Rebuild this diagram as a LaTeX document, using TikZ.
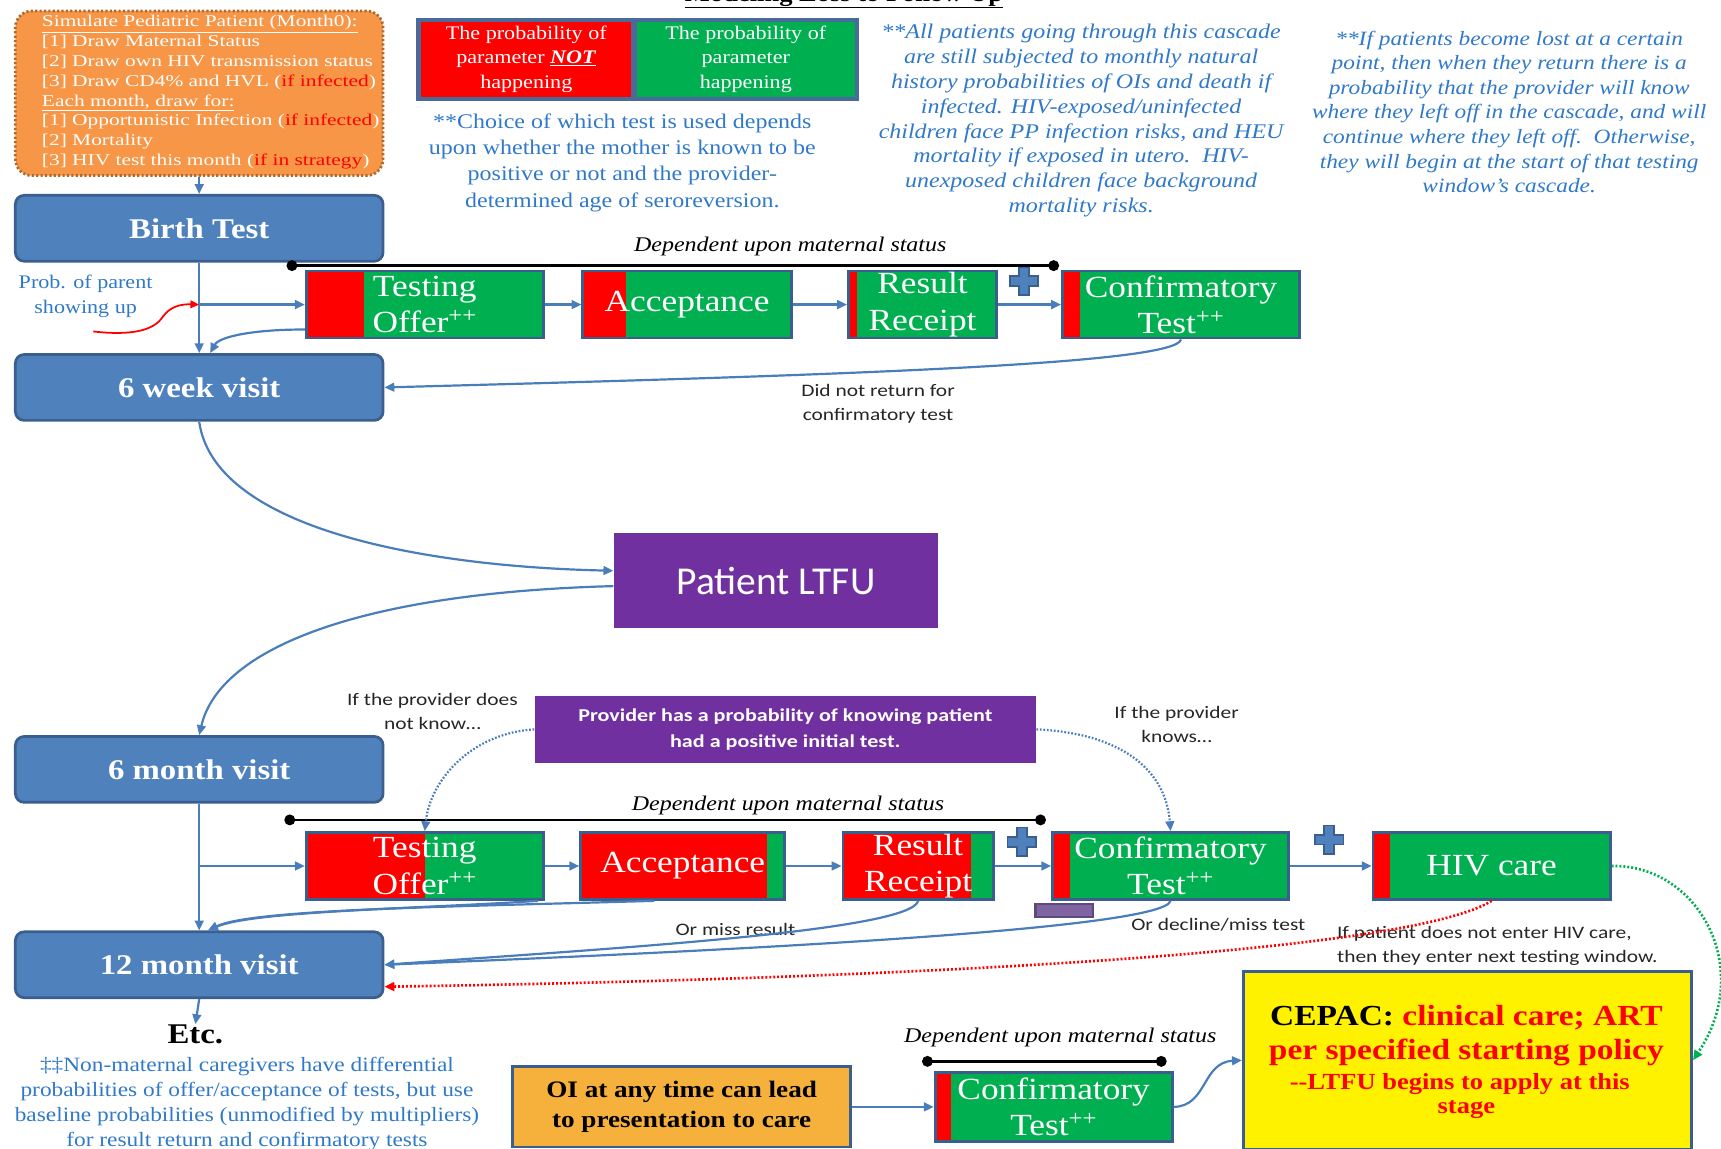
\documentclass[tikz,border=0pt]{standalone}
\usepackage{fontspec}
\setmainfont[FakeStretch=1.15]{Liberation Serif}
\newfontfamily\simfont[FakeStretch=1.3]{Liberation Serif}
\newfontfamily\lblfont[FakeStretch=1.22]{Carlito}
\newfontfamily\ltfufont{Carlito}
\usetikzlibrary{arrows.meta}
\definecolor{boxblue}{HTML}{4F81BD}
\definecolor{boxborder}{HTML}{3A5F8E}
\definecolor{tgreen}{HTML}{00B050}
\definecolor{tred}{HTML}{FF0000}
\definecolor{ppurple}{HTML}{7030A0}
\definecolor{simorange}{HTML}{F79646}
\definecolor{simborder}{HTML}{B06A30}
\definecolor{oiorange}{HTML}{F6B03C}
\definecolor{notblue}{HTML}{3079C8}
\definecolor{connblue}{HTML}{4A7EBB}
\definecolor{lblgray}{HTML}{262626}
\definecolor{minusfill}{HTML}{8064A2}
\definecolor{minusdraw}{HTML}{5C4A7A}
\definecolor{legframe}{HTML}{4A6B99}
\begin{document}
\begin{tikzpicture}[x=1pt,y=-1pt,
  conn/.style={draw=connblue, line width=2pt, -{Triangle[length=9pt,width=8pt]}},
  dotconn/.style={draw=connblue, line width=2pt, dash pattern=on 1.6pt off 1.6pt, -{Triangle[length=9pt,width=8pt]}},
  reddot/.style={draw=tred, line width=2.4pt, dash pattern=on 1.8pt off 1.8pt, -{Triangle[length=9pt,width=8pt]}},
  greendot/.style={draw=tgreen, line width=2.4pt, dash pattern=on 1.8pt off 1.8pt, -{Triangle[length=9pt,width=8pt]}},
  redarrow/.style={draw=tred, line width=1.6pt, -{Triangle[length=8pt,width=7pt]}},
  dep/.style={draw=black, line width=2.5pt},
  visit/.style={draw=boxborder, line width=2.5pt, fill=boxblue, rounded corners=8pt,
    minimum width=335pt, minimum height=60pt, inner sep=0pt, text=white,
    font=\bfseries\fontsize{26}{30}\selectfont},
  tbox/.style={draw=boxborder, line width=2.5pt, fill=tgreen, minimum height=61pt,
    inner sep=0pt, text=white, align=center, font=\fontsize{28}{33}\selectfont,
    path picture={\fill[tred] (path picture bounding box.south west) rectangle ([xshift=#1]path picture bounding box.north west);}},
  note/.style={text=notblue, align=center, inner sep=0pt},
  lbl/.style={text=lblgray, align=center, inner sep=0pt, font=\lblfont\fontsize{16}{22}\selectfont},
  deplbl/.style={inner sep=0pt, font=\itshape\fontsize{19}{22}\selectfont},
  plussign/.pic={\draw[fill=boxblue, draw=boxborder, line width=1.5pt]
     (-4.5,-13)--(4.5,-13)--(4.5,-4.5)--(13,-4.5)--(13,4.5)--(4.5,4.5)--(4.5,13)--(-4.5,13)--(-4.5,4.5)--(-13,4.5)--(-13,-4.5)--(-4.5,-4.5)--cycle;}
]
\useasboundingbox (0,0) rectangle (1568,1046);
\clip (0,0) rectangle (1568,1046);

% title
\node[anchor=base, inner sep=0pt, font=\bfseries\fontsize{21}{24}\selectfont] (title) at (769,1) {\underline{Modeling Loss to Follow Up}};

% simulate box
\node[draw=simborder, line width=2.5pt, dash pattern=on 2pt off 2pt, fill=simorange, rounded corners=15pt,
  minimum width=335pt, minimum height=150pt] (sim) at (181.5,85) {};
\node[anchor=west, align=left, inner sep=0pt, text=white, font=\simfont\fontsize{15}{18}\selectfont] (simtext) at (38,84)
 {\underline{Simulate Pediatric Patient (Month0):}\\
 {[1]} Draw Maternal Status\\
 {[2]} Draw own HIV transmission status\\
 {[3]} Draw CD4\% and HVL ({\color{tred}if infected})\\
 \underline{Each month, draw for:}\\
 {[1]} Opportunistic Infection ({\color{tred}if infected})\\
 {[2]} Mortality\\
 {[3]} HIV test this month ({\color{tred}if in strategy})};

% legend
\node[draw=legframe, fill=legframe, line width=2pt, minimum width=402pt, minimum height=74pt, inner sep=0pt] (legend) at (581,54) {};
\node[fill=tred, minimum width=191pt, minimum height=68pt, inner sep=0pt, text=white, align=center,
  font=\fontsize{17.5}{22.5}\selectfont] (legnot) at (479.5,54) {The probability of\\parameter \underline{\textbf{\textit{NOT}}}\\happening};
\node[fill=tgreen, minimum width=199pt, minimum height=68pt, inner sep=0pt, text=white, align=center,
  font=\fontsize{17.5}{22.5}\selectfont] (legyes) at (679.5,54) {The probability of\\parameter\\happening};

% notes
\node[note, font=\fontsize{19}{24}\selectfont] (choice) at (567,148)
 {**Choice of which test is used depends\\upon whether the mother is known to be\\positive or not and the provider-\\determined age of seroreversion.};
\node[note, font=\itshape\fontsize{19}{22.6}\selectfont] (allnote) at (985,110)
 {**All patients going through this cascade\\are still subjected to monthly natural\\history probabilities of OIs and death if\\infected. HIV-exposed/uninfected\\children face PP infection risks, and HEU\\mortality if exposed in utero.\ \ HIV-\\unexposed children face background\\mortality risks.};
\node[note, font=\itshape\fontsize{18.5}{22.4}\selectfont] (lostnote) at (1375,102)
 {**If patients become lost at a certain\\point, then when they return there is a\\probability that the provider will know\\where they left off in the cascade, and will\\continue where they left off.\ \ Otherwise,\\they will begin at the start of that testing\\window’s cascade.};
\node[note, font=\fontsize{18.5}{23}\selectfont] (carenote) at (225,1006)
 {‡‡Non-maternal caregivers have differential\\probabilities of offer/acceptance of tests, but use\\baseline probabilities (unmodified by multipliers)\\for result return and confirmatory tests};

% visits
\node[visit] (birth) at (181.5,208) {Birth Test};
\node[visit] (w6) at (181.5,353) {6 week visit};
\node[visit] (m6) at (181.5,701) {6 month visit};
\node[visit] (m12) at (181.5,879) {12 month visit};
\node[inner sep=0pt, font=\bfseries\fontsize{26}{30}\selectfont] (etc) at (178,942) {Etc.};

% row 1
\node[tbox=53pt, minimum width=216pt] (to1) at (387,277.5) {Testing\\Offer\textsuperscript{++}};
\node[tbox=39pt, minimum width=190pt] (acc1) at (626,277.5) {Acceptance};
\node[tbox=8pt, minimum width=135pt] (rr1) at (840.5,277.5) {Result\\Receipt};
\node[tbox=16pt, minimum width=216pt] (cf1) at (1076,277.5) {Confirmatory\\Test\textsuperscript{++}};

% row 2
\node[tbox=108pt, minimum width=216pt] (to2) at (387,789) {Testing\\Offer\textsuperscript{++}};
\node[tbox=170pt, minimum width=186pt] (acc2) at (622,789) {Acceptance};
\node[tbox=117pt, minimum width=137pt] (rr2) at (836.5,789) {Result\\Receipt};
\node[tbox=16pt, minimum width=215pt] (cf2) at (1066.5,789) {Confirmatory\\Test\textsuperscript{++}};
\node[tbox=15pt, minimum width=216pt] (hiv) at (1359,789) {HIV care};

% row 3
\node[draw=boxborder, line width=2.5pt, fill=oiorange, minimum width=308pt, minimum height=73pt, inner sep=0pt,
  align=center, font=\bfseries\fontsize{21.5}{27}\selectfont] (oi) at (621,1008.5) {OI at any time can lead\\to presentation to care};
\node[tbox=14pt, minimum width=216pt, minimum height=63pt] (cf3) at (960,1008.5) {Confirmatory\\Test\textsuperscript{++}};
\node[draw=boxborder, line width=3pt, fill=yellow, minimum width=408pt, minimum height=162pt, inner sep=0pt] (cepac) at (1337,966) {};
\node[inner sep=0pt, font=\bfseries\fontsize{26.5}{30}\selectfont] (cep1) at (1336,927) {CEPAC: {\color{tred}clinical care; ART}};
\node[inner sep=0pt, text=tred, font=\bfseries\fontsize{26.5}{30}\selectfont] (cep2) at (1336,959) {per specified starting policy};
\node[inner sep=0pt, text=tred, font=\bfseries\fontsize{21}{24}\selectfont] (cep3) at (1330,988) {-{}-LTFU begins to apply at this};
\node[inner sep=0pt, text=tred, font=\bfseries\fontsize{21}{24}\selectfont] (cep4) at (1336,1011) {stage};

% purple boxes
\node[fill=ppurple, minimum width=296pt, minimum height=86pt, inner sep=0pt, text=white,
  font=\ltfufont\fontsize{36}{40}\selectfont] (ltfu) at (707,529) {Patient LTFU};
\node[fill=ppurple, minimum width=457pt, minimum height=61pt, inner sep=0pt, text=white, align=center,
  font=\lblfont\bfseries\fontsize{16.5}{24}\selectfont] (prov) at (715.5,664.5) {Provider has a probability of knowing patient\\had a positive initial test.};

% plus and minus signs
\pic at (933,256) {plussign};
\pic at (931,767) {plussign};
\pic at (1211,765) {plussign};
\node[draw=minusdraw, fill=minusfill, line width=2pt, minimum width=52pt, minimum height=12pt, inner sep=0pt] (minus1) at (969.5,829.5) {};

% dependency lines
\coordinate (d1a) at (266,242); \coordinate (d1b) at (960,242);
\draw[dep] (d1a) -- (d1b); \fill (d1a) circle (5pt); \fill (d1b) circle (5pt);
\node[deplbl] (dep1) at (720,225) {Dependent upon maternal status};
\coordinate (d2a) at (264,747); \coordinate (d2b) at (948,747);
\draw[dep] (d2a) -- (d2b); \fill (d2a) circle (5pt); \fill (d2b) circle (5pt);
\node[deplbl] (dep2) at (718,734) {Dependent upon maternal status};
\coordinate (d3a) at (845,967); \coordinate (d3b) at (1058,967);
\draw[dep] (d3a) -- (d3b); \fill (d3a) circle (5pt); \fill (d3b) circle (5pt);
\node[deplbl] (dep3) at (966,945) {Dependent upon maternal status};

% labels
\node[note, font=\fontsize{17.5}{23}\selectfont] (prob) at (78,270) {Prob. of parent\\showing up};
\node[lbl] (dnr) at (800,368) {Did not return for\\confirmatory test};
\node[lbl] (dnk) at (394,648) {If the provider does\\not know…};
\node[lbl] (dk) at (1072,660) {If the provider\\knows…};
\node[lbl] (miss) at (670,847) {Or miss result};
\node[lbl] (decl) at (1110,843) {Or decline/miss test};
\node[lbl, align=left, anchor=west] (nohiv) at (1218,862) {If patient does not enter HIV care,\\then they enter next testing window.};

% connectors
\draw[conn] (sim.south) -- (birth.north);
\draw[conn] (birth.south) -- (w6.north);
\coordinate (j1) at (birth.south |- to1.west);
\draw[conn] (j1) -- (to1.west);
\draw[conn] (to1.east) -- (acc1.west);
\draw[conn] (acc1.east) -- (rr1.west);
\draw[conn] (rr1.east) -- (cf1.west);
\draw[conn] ([yshift=9pt]to1.south west) .. controls (235,300) and (200,306) .. ([xshift=10pt]w6.north);
\draw[conn] (cf1.south) .. controls (1072,332) and (760,342) .. (w6.east);
\coordinate (sq) at (85,302);
\draw[redarrow] (sq) .. controls (120,306) and (140,301) .. (148,289) .. controls (155,279) and (165,277) .. (j1);

\draw[conn] (w6.south) .. controls (195,480) and (380,516) .. ([yshift=9pt]ltfu.west);
\draw[conn] ([yshift=-5pt]ltfu.west) .. controls (330,540) and (200,590) .. (m6.north);

\draw[dotconn] (prov.west) .. controls (430,668) and (392,710) .. (to2.north);
\draw[dotconn] (prov.east) .. controls (1020,668) and (1062,700) .. (cf2.north);

\draw[conn] (m6.south) -- (m12.north);
\coordinate (j2) at (m6.south |- to2.west);
\draw[conn] (j2) -- (to2.west);
\draw[conn] (to2.east) -- (acc2.west);
\draw[conn] (acc2.east) -- (rr2.west);
\draw[conn] (rr2.east) -- (cf2.west);
\draw[conn] (cf2.east) -- (hiv.west);

\draw[conn] ([xshift=-26pt]acc2.south) .. controls (420,826) and (230,828) .. ([xshift=8pt]m12.north);
\draw[conn] ([xshift=-6pt]to2.south east) .. controls (380,828) and (230,830) .. ([xshift=8pt]m12.north);
\draw[conn] (rr2.south) .. controls (830,848) and (560,864) .. (m12.east);
\draw[conn] (cf2.south) .. controls (1060,848) and (620,868) .. (m12.east);
\draw[reddot] (hiv.south) .. controls (1280,870) and (800,892) .. ([yshift=-20pt]m12.east);
\draw[greendot] (hiv.east) .. controls (1545,787) and (1600,880) .. (cepac.east);

\draw[conn] (m12.south) -- (etc.north);
\draw[conn] (oi.east) -- (cf3.west);
\draw[conn] (cf3.east) .. controls (1100,1008) and (1095,968) .. (cepac.west);
\end{tikzpicture}
\end{document}
